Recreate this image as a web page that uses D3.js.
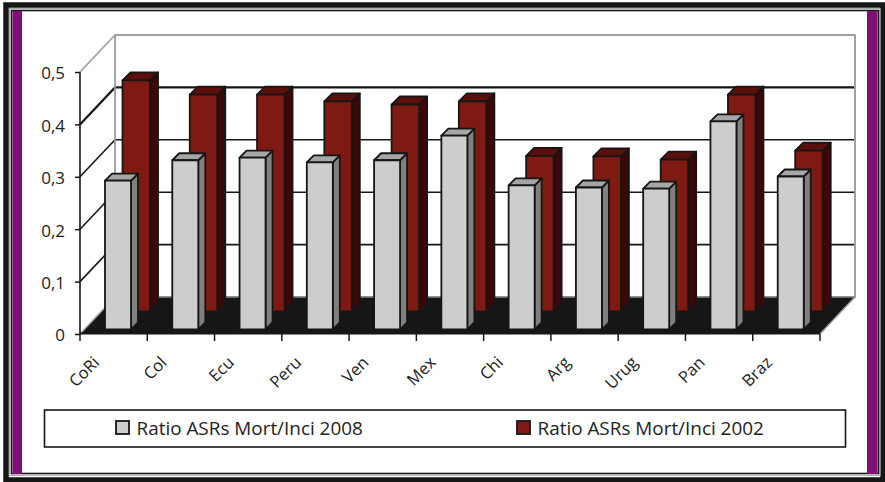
<!DOCTYPE html>
<html><head><meta charset="utf-8">
<script src="https://cdn.jsdelivr.net/npm/d3@7/dist/d3.min.js"></script>
<style>html,body{margin:0;padding:0;background:#fff}svg{display:block}text{font-family:"Open Sans",sans-serif;fill:#222}</style>
</head><body><svg id="c" width="885" height="482"></svg>
<script>
const categories=["CoRi","Col","Ecu","Peru","Ven","Mex","Chi","Arg","Urug","Pan","Braz"];
const values2008=[0.284,0.323,0.328,0.319,0.323,0.370,0.275,0.271,0.269,0.397,0.292];
const values2002=[0.441,0.414,0.414,0.401,0.395,0.401,0.297,0.296,0.290,0.414,0.307];
const yTicks=[0,0.1,0.2,0.3,0.4,0.5];
const yTickLabels=["0","0,1","0,2","0,3","0,4","0,5"];
const legendLabels=["Ratio ASRs Mort/Inci 2008","Ratio ASRs Mort/Inci 2002"];

const svg=d3.select("#c");
const W=885,H=482;
const dark="#161616";
// frame
svg.append("rect").attr("x",0).attr("y",0).attr("width",W).attr("height",H).attr("fill","#fff");
svg.append("rect").attr("x",6).attr("y",5).attr("width",W-8).attr("height",H-7).attr("fill","none").attr("stroke",dark).attr("stroke-width",5.5);
svg.append("rect").attr("x",9.5).attr("y",8.5).attr("width",W-14.5).attr("height",H-15).attr("fill","none").attr("stroke","#aaa").attr("stroke-width",1);
svg.append("rect").attr("x",11.5).attr("y",10.5).attr("width",W-18).attr("height",H-19).attr("fill","none").attr("stroke",dark).attr("stroke-width",1.6);
svg.append("rect").attr("x",12.5).attr("y",11).attr("width",9.5).attr("height",H-18-1).attr("fill","#820f78");
svg.append("rect").attr("x",867).attr("y",11).attr("width",10.5).attr("height",H-18-1).attr("fill","#820f78");
svg.append("line").attr("x1",22).attr("x2",867).attr("y1",475).attr("y2",475).attr("stroke","#bbb").attr("stroke-width",1.5);

// plot geometry
const x=d3.scaleBand().domain(categories).range([80,820]);
const y=d3.scaleLinear().domain([0,0.5]).range([334,72]);
const dx=35,dy=-37;
const g=svg.append("g");
const poly=(pts,fill,stroke,sw)=>g.append("polygon").attr("points",pts.map(p=>p.join(",")).join(" ")).attr("fill",fill).attr("stroke",stroke||"none").attr("stroke-width",sw||0).attr("stroke-linejoin","round");
const xl=x.range()[0],xr=x.range()[1];
// back wall & side wall
poly([[xl+dx,y(0.5)+dy],[xr+dx,y(0.5)+dy],[xr+dx,y(0)+dy],[xl+dx,y(0)+dy]],"#fff","#a0a0a0",1.8);
poly([[xl,y(0.5)],[xl+dx,y(0.5)+dy],[xl+dx,y(0)+dy],[xl,y(0)]],"#fff","none");
g.append("line").attr("x1",xl).attr("y1",y(0.5)).attr("x2",xl+dx).attr("y2",y(0.5)+dy).attr("stroke","#a0a0a0").attr("stroke-width",1.8);
// gridlines
yTicks.filter(v=>v>0&&v<0.5).forEach(v=>{
  const sw=v===0.4?2.2:1.6;
  g.append("polyline").attr("points",`${xl},${y(v)} ${xl+dx},${y(v)+dy} ${xr+dx-1},${y(v)+dy}`).attr("fill","none").attr("stroke",dark).attr("stroke-width",sw);
});
g.append("line").attr("x1",xl+dx).attr("x2",xl+dx).attr("y1",y(0.5)+dy).attr("y2",y(0)+dy).attr("stroke","#a0a0a0").attr("stroke-width",1.8);
g.append("line").attr("x1",xr+dx).attr("x2",xr+dx).attr("y1",y(0.5)+dy).attr("y2",y(0)+dy).attr("stroke","#a0a0a0").attr("stroke-width",1.8);
// floor
poly([[xl,y(0)],[xr,y(0)],[xr+dx,y(0)+dy],[xl+dx,y(0)+dy]],dark,"none");
g.append("line").attr("x1",xl).attr("y1",y(0)).attr("x2",xl+dx).attr("y2",y(0)+dy).attr("stroke","#a0a0a0").attr("stroke-width",1.5);
g.append("line").attr("x1",xr).attr("y1",y(0)).attr("x2",xr+dx).attr("y2",y(0)+dy).attr("stroke","#a0a0a0").attr("stroke-width",1.5);
g.append("line").attr("x1",xl+dx).attr("x2",xr+dx).attr("y1",y(0)+dy).attr("y2",y(0)+dy).attr("stroke","#888").attr("stroke-width",1.5);

// bars
function bar(cx,base,val,w,d,front,top,side){
  const t=base-(y(0)-y(val));
  const s=dark,sw=1.8;
  poly([[cx+w,t],[cx+w+d,t-d],[cx+w+d,base-d],[cx+w,base]],side,s,sw);
  poly([[cx,t],[cx+d,t-d],[cx+w+d,t-d],[cx+w,t]],top,s,sw);
  poly([[cx,t],[cx+w,t],[cx+w,base],[cx,base]],front,s,sw);
}
categories.forEach((c,i)=>bar(x(c)+42.5,y(0)-22.5,values2002[i],27.5,8,"#7f1a12","#5c0f0b","#3b0707"));
categories.forEach((c,i)=>bar(x(c)+25,y(0)-4.5,values2008[i],26,7,"#cdcdcd","#a6a6a6","#808080"));
g.append("line").attr("x1",xl).attr("x2",xr).attr("y1",y(0)-0.5).attr("y2",y(0)-0.5).attr("stroke",dark).attr("stroke-width",2);

// axes
const yAxis=d3.axisLeft(y).tickValues(yTicks).tickFormat((d,i)=>yTickLabels[i]).tickSize(5).tickPadding(10);
const ya=svg.append("g").attr("transform",`translate(${xl},0)`).call(yAxis);
ya.select(".domain").attr("stroke",dark).attr("stroke-width",1.6).attr("d",`M0,${y(0.5)}V${y(0)}`);
ya.selectAll("line").attr("stroke",dark).attr("stroke-width",1.5);
ya.selectAll("text").attr("dy","0.4em").style("font-size","17px").style("font-family",'"Open Sans",sans-serif').attr("fill","#222");
const edgeTicks=x.domain().map(c=>x(c)).concat([xr]);
const xa=svg.append("g");
xa.selectAll("line").data(edgeTicks).join("line").attr("x1",d=>d).attr("x2",d=>d).attr("y1",y(0)).attr("y2",y(0)+7).attr("stroke",dark).attr("stroke-width",1.5);
xa.selectAll("text").data(categories).join("text")
  .attr("transform",c=>`translate(${x(c)+13.5},${y(0)+22.5}) rotate(-45)`)
  .attr("text-anchor","end").attr("dy","0.6em").style("font-size","16.5px").text(d=>d);

// legend
svg.append("rect").attr("x",44.5).attr("y",410).attr("width",801).attr("height",37).attr("fill","#fff").attr("stroke",dark).attr("stroke-width",1.6);
const lg=svg.append("g");
[[116,"#cdcdcd"],[517,"#7f1a12"]].forEach(([lx,col],i)=>{
  lg.append("rect").attr("x",lx).attr("y",421).attr("width",13).attr("height",13).attr("fill",col).attr("stroke",dark).attr("stroke-width",1.8);
  lg.append("text").attr("x",lx+20.5).attr("y",435).style("font-size","18.9px").text(legendLabels[i]);
});
</script></body></html>
